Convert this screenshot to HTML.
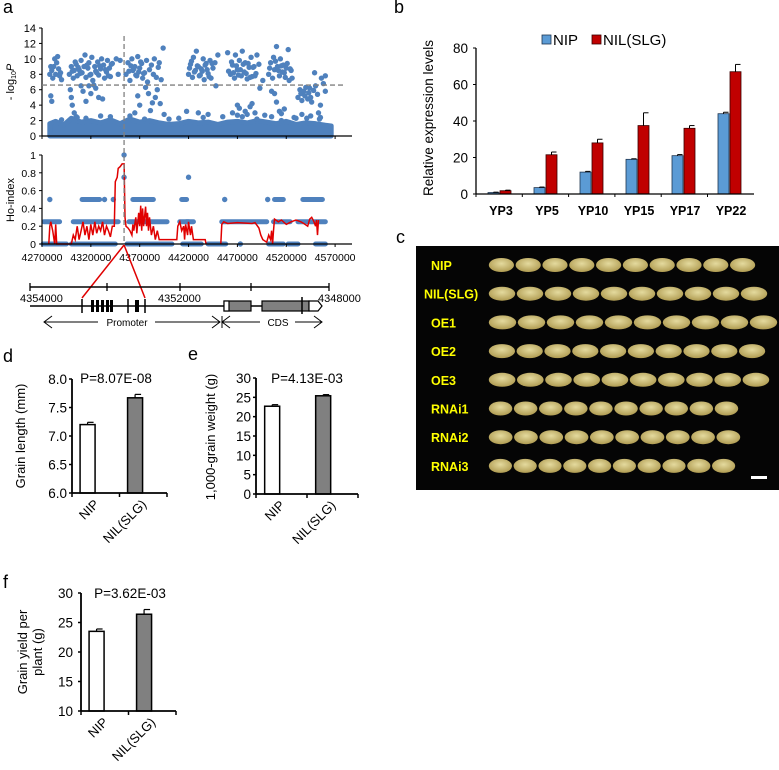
<!DOCTYPE html>
<html><head><meta charset="utf-8">
<style>
html,body{margin:0;padding:0;background:#fff;}
svg{display:block;font-family:"Liberation Sans",Arial,sans-serif;}
</style></head>
<body>
<svg id="fig" width="779" height="770" viewBox="0 0 779 770" xmlns="http://www.w3.org/2000/svg"></svg>
<script>
// ---------- Panel a: GWAS scatter ----------
const snpPos = [8,9,10,11,12,13,14,15,16,17,18,10,9,19,20,
28,30,32,33,35,36,38,40,41,43,44,45,47,48,50,51,52,54,55,57,58,60,61,63,64,66,67,69,70,72,30,31,29,33,35,45,50,55,58,62,40,42,48,53,
76,78,80,
86,88,90,92,93,95,97,98,100,102,103,105,107,108,110,112,114,115,117,119,120,122,124,118,116,113,111,109,100,95,106,121,98,
150,152,154,155,157,158,160,161,163,165,166,168,170,172,173,175,177,148,160,170,178,180,
190,193,195,197,198,200,202,204,205,207,208,210,212,214,215,217,219,220,222,195,200,202,205,208,210,213,215,218,220,223,226,
232,234,236,237,238,240,241,243,244,246,247,249,250,252,253,255,256,235,238,240,243,245,248,
262,264,265,266,268,269,270,272,273,274,275,276,278,279,280,282,283,285,286,284,266,271,288,290,290,
31,34,37,39,46,49,56,59,65,68,71,89,91,94,96,99,101,104,151,153,156,159,162,164,167,169,171,174,191,194,196,199,201,203,206,209,211,213,216,218,233,239,242,245,248,251,254,
36,60,105,125,140,185,228,245,258,275,20,45,70,90,130,165,200,235,260,285];
const snpLogP = [8,9,8.5,7.5,9,10,8,9.5,10.3,8.7,7.8,4.5,5.2,8.2,7.3,
8,9,7.5,8.5,9.3,7.8,8.6,9.8,8.2,9,10.5,7.6,8.8,9.5,8,10.2,7.2,9,8.4,9.6,7.9,8.7,10,9.2,7.5,8.3,9.8,8.8,7.7,9.4,5,4,6,3,2.5,4.5,5.5,6.2,5,4.8,6.5,5.8,6.5,6.6,
10,8,9.8,
8,9.5,7.2,10,8.5,9,7.8,10.3,8.8,9.4,7.5,8.2,9.8,7,8.6,9.2,8,10,7.6,8.9,9.5,7.3,11.4,6,5,4.3,3.3,5.5,4,3,6.3,4.2,5.2,
8,9.3,7.6,10.2,8.5,11,9,7.8,8.7,10,7.3,9.4,8.1,9.8,7.5,8.8,9.5,3.2,3,2.8,6.5,10.5,
10.8,8,9.2,7.5,10.5,8.6,9.8,7.8,11,8.3,9.5,7.4,8.9,10.2,7.7,9,8.1,10.5,9.3,3,4,3.6,2.5,3.2,2.8,3.8,4.2,3,2.2,6.2,7.2,
8,9.5,7.5,10.2,8.6,11.6,9,7.8,10,8.3,9.2,7.6,8.8,11.2,7.2,8.5,7.5,5.8,5.5,4.4,3.2,2,3.5,
5,6,5.5,4.6,5.8,5.2,6.3,4.8,5.6,6.2,5,4.4,5.9,8.2,6.5,5.4,3,4,7.5,2.2,2.8,2.3,6.8,7.8,5.8,
8.4,9.6,8.9,8.1,9.2,7.9,8.2,9.1,8.6,7.8,9.3,8.4,9.1,8.7,7.9,8.3,9.6,8.1,8.8,9.7,8.3,9.1,7.9,8.4,9.2,8.6,7.7,9.4,8.4,9.6,8.2,9.1,7.9,8.6,9.3,8.1,9.4,7.6,8.9,7.8,8.8,9.7,8.5,9.1,8.2,9.4,8.7,
2.4,2.6,2.2,2.8,2.3,2.5,2.7,2.9,2.4,2.6,2.1,2.3,2.5,2.6,2.2,2.4,2.7,2.5,2.3,2.4];
const bandPos = [8,14,22,30,40,50,60,70,80,90,100,110,120,130,140,150,160,170,180,190,200,210,220,230,240,250,260,270,280,290,296];
const bandTop = [1.6,1.9,1.4,2.3,1.8,2.0,1.7,2.1,1.6,2.2,1.8,2.0,1.7,1.5,1.6,1.9,1.7,1.8,1.5,1.8,1.9,1.7,2.0,1.8,1.6,1.9,1.5,1.7,1.6,1.4,1.3];
const yTicksTop = [0,2,4,6,8,10,12,14];
const thresholdLogP = 6.6;
const peakPos = 84;
// Ho-index
const hoLevels = [0,0.25,0.5];
const hoIntervals0 = [[1,25],[30,75],[87,133],[144,163],[170,188],[232,247],[252,262],[280,290]];
const hoIntervals25 = [[2,18],[32,78],[89,128],[141,155],[148,150],[184,230],[237,254],[262,290]];
const hoIntervals50 = [[41,59],[93,114],[143,148],[238,247],[267,287]];
const hoSingleX = [8,64,73,187,231,203,84,84,150];
const hoSingleY = [0.5,0.5,0.5,0.5,0.5,0,1,0.75,0.75];
const redLine = [[7,0],[8,0.2],[9,0.25],[11,0.15],[13,0],[14,0.22],[15,0],[30,0],[32,0.1],[34,0.05],[36,0.2],[38,0.05],[40,0.15],[42,0.25],[44,0.1],[46,0.2],[48,0.05],[50,0.22],[52,0.1],[54,0.25],[56,0.12],[58,0.2],[60,0.15],[62,0.25],[64,0.1],[66,0.2],[68,0.15],[70,0.08],[72,0.2],[74,0.2],[75,0.7],[77,0.75],[78,0.85],[80,0.87],[82,0.9],[84,0.9],[85,0.3],[86,0.2],[88,0.18],[90,0.15],[92,0.1],[93,0.22],[94,0.15],[96,0.3],[97,0.12],[99,0.35],[100,0.2],[101,0.43],[102,0.15],[103,0.4],[104,0.2],[106,0.42],[107,0.2],[108,0.35],[109,0.15],[110,0.3],[112,0.1],[114,0.2],[116,0.05],[118,0.15],[120,0.05],[135,0.05],[138,0.05],[139,0.2],[141,0.25],[143,0.15],[145,0.2],[146,0.05],[147,0.22],[149,0.1],[150,0.25],[152,0.1],[153,0.2],[155,0.05],[167,0.05],[168,0],null,[183,0],[184,0.22],[186,0.25],[190,0.23],[200,0.24],[215,0.23],[218,0.24],[222,0.18],[224,0.1],[226,0.05],[230,0.02],[232,0.1],[234,0.05],[235,0.15],[236,0],[237,0.15],[238,0.28],[242,0.25],[245,0.27],[250,0.22],[255,0.25],[260,0.27],[265,0.25],[268,0.23],[272,0.2],[274,0.28],[276,0.3],[278,0.26],[280,0.2],[281,0.27],[282,0.1],[283,0.27]];
const yTicksHo = [0,0.2,0.4,0.6,0.8,1];
const yTickLabelsHo = ["0","0.2","0.4","0.6","0.8","1"];
const xTickLabelsA = ["4270000","4320000","4370000","4420000","4470000","4520000","4570000"];
// ---------- Panel b ----------
const bCats = ["YP3","YP5","YP10","YP15","YP17","YP22"];
const bNIP = [0.8,3.5,12,19,21,44];
const bNIPerr = [0.2,0.3,0.4,0.3,0.6,0.8];
const bNIL = [1.8,21.5,28,37.5,36,67];
const bNILerr = [0.3,1.5,2,7,1.5,4];
const bTicks = [0,20,40,60,80];
// ---------- Panel d/e/f ----------
const dVals = [7.2,7.67], dErr = [0.04,0.06];
const dTicks = [6.0,6.5,7.0,7.5,8.0];
const eVals = [22.7,25.4], eErr = [0.4,0.3];
const eTicks = [0,5,10,15,20,25,30];
const fVals = [23.5,26.4], fErr = [0.4,0.8];
const fTicks = [10,15,20,25,30];
const groups = ["NIP","NIL(SLG)"];
// ---------- Panel c ----------
const grainLines = ["NIP","NIL(SLG)","OE1","OE2","OE3","RNAi1","RNAi2","RNAi3"];
const grainCounts = [10,10,10,10,10,10,10,10];
const grainLengths = [26.8,28,29,27.8,28.2,25.1,25.3,24.8];

const NS="http://www.w3.org/2000/svg";
const svg=document.getElementById('fig');
function mk(tag,attrs,parent){const e=document.createElementNS(NS,tag);for(const k in attrs)e.setAttribute(k,attrs[k]);(parent||svg).appendChild(e);return e;}
function txt(s,x,y,size,anchor,parent,extra){const t=mk('text',Object.assign({x:x,y:y,'font-size':size,'text-anchor':anchor||'start',fill:'#000'},extra||{}),parent);t.textContent=s;return t;}

// panel letters
[["a",3,13],["b",394,13],["c",396,243],["d",3,362],["e",188,360],["f",3,588]].forEach(p=>{
  const t=txt(p[0],p[1],p[2],18,'start');
  
  
});

// ===== Panel a top =====
const ax=kb=>42+kb*0.977;
const ayTop=v=>136-v*(108/14);
const gA=mk('g',{});


let bd='M'+ax(bandPos[0])+','+ayTop(0);
bandPos.forEach((p,i)=>{bd+=' L'+ax(p)+','+ayTop(bandTop[i]);});
bd+=' L'+ax(bandPos[bandPos.length-1])+','+ayTop(0)+' Z';
const band=mk('path',{d:bd,fill:'#4f81bd',stroke:'#4f81bd','stroke-width':5,'stroke-linejoin':'round'},gA);


snpPos.forEach((p,i)=>{
  const c=mk('circle',{cx:ax(p),cy:ayTop(snpLogP[i]),r:2.7,fill:'#4f81bd'},gA);
  
  
});
mk('line',{x1:42,y1:28,x2:42,y2:136,stroke:'#000','stroke-width':1.2},gA);
mk('line',{x1:42,y1:136,x2:352,y2:136,stroke:'#000','stroke-width':1.2},gA);
yTicksTop.forEach(v=>{
  mk('line',{x1:39,y1:ayTop(v),x2:42,y2:ayTop(v),stroke:'#000'},gA);
  const t=txt(String(v),36,ayTop(v)+4,11,'end',gA);
  
  
});
for(let i=0;i<7;i++){mk('line',{x1:ax(i*50),y1:136,x2:ax(i*50),y2:139,stroke:'#000'},gA);}
const thr=mk('line',{x1:42,y1:ayTop(thresholdLogP),x2:345,y2:ayTop(thresholdLogP),stroke:'#808080','stroke-width':1.3,'stroke-dasharray':'5,3'},gA);


const ylA=txt('',14,82,11,'middle',gA,{transform:'rotate(-90 14 82)'});
ylA.innerHTML='- log<tspan font-size="7" dy="2">10</tspan><tspan dy="-2" font-style="italic">P</tspan>';



// ===== Panel a Ho-index =====
const ayHo=v=>244-v*89;
const gH=mk('g',{});


function rowDots(intervals,level){intervals.forEach(iv=>{const x1=ax(iv[0]),x2=ax(iv[1]);
  const l=mk('line',{x1:x1,y1:ayHo(level),x2:x2,y2:ayHo(level),stroke:'#4f81bd','stroke-width':5,'stroke-linecap':'round'},gH);
  
  });}
rowDots(hoIntervals0,hoLevels[0]);rowDots(hoIntervals25,hoLevels[1]);rowDots(hoIntervals50,hoLevels[2]);
hoSingleX.forEach((p,i)=>{const c=mk('circle',{cx:ax(p),cy:ayHo(hoSingleY[i]),r:2.7,fill:'#4f81bd'},gH);
  
  });
let rd='',start=true;
redLine.forEach(pt=>{if(!pt){start=true;return;}rd+=(start?' M':' L')+ax(pt[0]).toFixed(1)+','+ayHo(pt[1]).toFixed(1);start=false;});
const rl=mk('path',{d:rd,fill:'none',stroke:'#e00000','stroke-width':1.5},gH);


mk('line',{x1:42,y1:155,x2:42,y2:244,stroke:'#000','stroke-width':1.2},gH);
mk('line',{x1:42,y1:244,x2:352,y2:244,stroke:'#000','stroke-width':1.2},gH);
yTicksHo.forEach((v,i)=>{mk('line',{x1:39,y1:ayHo(v),x2:42,y2:ayHo(v),stroke:'#000'},gH);
  const t=txt(yTickLabelsHo[i],36,ayHo(v)+4,10.5,'end',gH);
  
  });
xTickLabelsA.forEach((s,i)=>{mk('line',{x1:ax(i*50),y1:244,x2:ax(i*50),y2:247,stroke:'#000'},gH);
  const t=txt(s,ax(i*50),261,10.5,'middle',gH);
  
  });
const ylH=txt('Ho-index',14,200,11,'middle',gH,{transform:'rotate(-90 14 200)'});


const vd=mk('line',{x1:ax(peakPos),y1:36,x2:ax(peakPos),y2:245,stroke:'#808080','stroke-width':1.3,'stroke-dasharray':'5,3'},svg);



// ===== gene diagram =====
const gG=mk('g',{});


mk('line',{x1:ax(peakPos),y1:245,x2:82,y2:298,stroke:'#e00000','stroke-width':1.5},gG);
mk('line',{x1:ax(peakPos),y1:245,x2:145,y2:298,stroke:'#e00000','stroke-width':1.5},gG);
mk('line',{x1:30,y1:287,x2:329,y2:287,stroke:'#000','stroke-width':1.5},gG);
[30,107,180,251,329].forEach(x=>mk('line',{x1:x,y1:283,x2:x,y2:291,stroke:'#000','stroke-width':1.3},gG));
txt('4354000',20,302,11,'start',gG);txt('4352000',158,302,11,'start',gG);txt('4348000',318,302,11,'start',gG);
mk('line',{x1:30,y1:306,x2:310,y2:306,stroke:'#000','stroke-width':1.5},gG);
[82,128,145].forEach(x=>mk('line',{x1:x,y1:299,x2:x,y2:313,stroke:'#000','stroke-width':1.5},gG));
[[91,3],[96,3],[101,3],[106,3],[110,3],[135,4]].forEach(b=>mk('rect',{x:b[0],y:300,width:b[1],height:12,fill:'#000'},gG));
mk('rect',{x:224,y:301,width:27,height:10,fill:'#808080',stroke:'#000','stroke-width':1.2},gG);
mk('rect',{x:224,y:301,width:5,height:10,fill:'#fff',stroke:'#000','stroke-width':1.2},gG);
mk('rect',{x:262,y:301,width:47,height:10,fill:'#808080',stroke:'#000','stroke-width':1.2},gG);
mk('path',{d:'M309,301 L318,301 L322,306 L318,311 L309,311 Z',fill:'#fff',stroke:'#000','stroke-width':1.2},gG);
mk('line',{x1:302,y1:297,x2:302,y2:314,stroke:'#000','stroke-width':1.5},gG);
mk('line',{x1:44,y1:322,x2:98,y2:322,stroke:'#000'},gG);mk('line',{x1:155,y1:322,x2:220,y2:322,stroke:'#000'},gG);
mk('path',{d:'M52,316 L44,322 L52,328 M212,316 L220,322 L212,328',fill:'none',stroke:'#000'},gG);
txt('Promoter',127,326,10,'middle',gG);
mk('line',{x1:222,y1:322,x2:260,y2:322,stroke:'#000'},gG);mk('line',{x1:295,y1:322,x2:322,y2:322,stroke:'#000'},gG);
mk('path',{d:'M230,316 L222,322 L230,328 M314,316 L322,322 L314,328',fill:'none',stroke:'#000'},gG);
txt('CDS',278,326,10,'middle',gG);
mk('line',{x1:222,y1:316,x2:222,y2:328,stroke:'#000'},gG);

// ===== Panel b =====
const gB=mk('g',{});


const byS=v=>194-v*(146/80);
const bx=i=>488+i*46;
bCats.forEach((c,i)=>{
  const r1=mk('rect',{x:bx(i),y:byS(bNIP[i]),width:11,height:194-byS(bNIP[i]),fill:'#5b9bd5',stroke:'#1f3550','stroke-width':0.8},gB);
  
  
  const r2=mk('rect',{x:bx(i)+12,y:byS(bNIL[i]),width:11,height:194-byS(bNIL[i]),fill:'#c00000',stroke:'#3a0000','stroke-width':0.8},gB);
  
  
  [[bx(i)+5.5,bNIP[i],bNIPerr[i]],[bx(i)+17.5,bNIL[i],bNILerr[i]]].forEach(e=>{
    const y1=byS(e[1]),y2=byS(e[1]+e[2]);
    mk('line',{x1:e[0],y1:y1,x2:e[0],y2:y2,stroke:'#000','stroke-width':1},gB);
    mk('line',{x1:e[0],y1:y2,x2:e[0]+5,y2:y2,stroke:'#000','stroke-width':1},gB);
  });
  const t=txt(c,bx(i)+13,215,12.5,'middle',gB,{'font-weight':'bold'});
  
  
  mk('line',{x1:476+i*46.3,y1:194,x2:476+i*46.3,y2:197,stroke:'#000'},gB);
});
mk('line',{x1:476,y1:48,x2:476,y2:194,stroke:'#000','stroke-width':1.3},gB);
mk('line',{x1:476,y1:194,x2:754,y2:194,stroke:'#000','stroke-width':1.3},gB);
bTicks.forEach(v=>{mk('line',{x1:473,y1:byS(v),x2:476,y2:byS(v),stroke:'#000'},gB);
  const t=txt(String(v),468,byS(v)+5,13.5,'end',gB);
  
  });
const ylB=txt('Relative expression levels',433,118,13.5,'middle',gB,{transform:'rotate(-90 433 118)'});


const lg=mk('g',{},gB);


mk('rect',{x:542,y:35,width:9,height:9,fill:'#5b9bd5',stroke:'#1f3550','stroke-width':0.8},lg);
txt('NIP',553,45,15,'start',lg);
mk('rect',{x:592,y:35,width:9,height:9,fill:'#c00000',stroke:'#3a0000','stroke-width':0.8},lg);
txt('NIL(SLG)',603,45,15,'start',lg);

// ===== Panel c =====
const gC=mk('g',{});


mk('rect',{x:416,y:246,width:363,height:244,fill:'#050505'},gC);
const defs=mk('defs',{});
const lgd=mk('radialGradient',{id:'grain',cx:'50%',cy:'40%',r:'60%'},defs);
mk('stop',{offset:'0%','stop-color':'#e4da9e'},lgd);mk('stop',{offset:'100%','stop-color':'#b09c52'},lgd);
grainLines.forEach((name,r)=>{
  const cy=265+r*28.7;
  const t=txt(name,name==='NIL(SLG)'?424:431,cy+5,12.5,'start',gC,{fill:'#ffff00','font-weight':'bold'});
  
  
  for(let k=0;k<grainCounts[r];k++){
    const w=grainLengths[r];
    const e=mk('ellipse',{cx:488+w*k+w/2,cy:cy,rx:w/2-0.8,ry:7,fill:'url(#grain)'},gC);
    
    
  }
});
const sb=mk('rect',{x:751,y:476,width:16,height:3,fill:'#fff'},gC);



// ===== small bar charts =====
function small(name,x0,x1,yTop,yBot,ticks,vals,errs,pText,pX,pY,yLabel,labX,labY,tickFmt,tickLabX){
  const g=mk('g',{});
  
  
  const lo=ticks[0],hi=ticks[ticks.length-1];
  const ys=v=>yBot-(v-lo)/(hi-lo)*(yBot-yTop);
  const w=(x1-x0)/2;
  vals.forEach((v,i)=>{
    const bxl=x0+w*i+w*0.17;
    const r=mk('rect',{x:bxl,y:ys(v),width:15,height:yBot-ys(v),fill:i?'#808080':'#fff',stroke:'#000','stroke-width':1.5},g);
    
    
    const cx=bxl+7.5,ye=ys(v+errs[i]);
    mk('line',{x1:cx,y1:ys(v),x2:cx,y2:ye,stroke:'#000','stroke-width':1.2},g);
    mk('line',{x1:cx,y1:ye,x2:cx+6,y2:ye,stroke:'#000','stroke-width':1.2},g);
    const lx=x0+w*i+w*0.5+4,ly=yBot+12;
    const t=txt(groups[i],lx,ly,13,'end',g,{transform:'rotate(-45 '+lx+' '+ly+')'});
    
    
  });
  mk('line',{x1:x0,y1:yTop,x2:x0,y2:yBot,stroke:'#000','stroke-width':1.8},g);
  mk('line',{x1:x0,y1:yBot,x2:x1,y2:yBot,stroke:'#000','stroke-width':1.8},g);
  [x0,(x0+x1)/2,x1].forEach(x=>mk('line',{x1:x,y1:yBot,x2:x,y2:yBot+4,stroke:'#000','stroke-width':1.5},g));
  ticks.forEach(v=>{mk('line',{x1:x0-3,y1:ys(v),x2:x0,y2:ys(v),stroke:'#000','stroke-width':1.5},g);
    const t=txt(tickFmt(v),tickLabX,ys(v)+5,13.5,'end',g);
    
    });
  const p=txt(pText,pX,pY,13.5,'middle',g);
  
  
  const yl=txt('',labX,labY,13,'middle',g,{transform:'rotate(-90 '+labX+' '+labY+')'});
  yLabel.forEach((s,i)=>{const ts=mk('tspan',{x:labX,dy:i?15:(yLabel.length>1?-7:0)},yl);ts.textContent=s;});
  
  
}
small('grain-length-chart',72,167,379,493,dTicks,dVals,dErr,'P=8.07E-08',116,383,['Grain length (mm)'],25,436,v=>v.toFixed(1),67);
small('grain-weight-chart',256,358,378,494,eTicks,eVals,eErr,'P=4.13E-03',307,383,['1,000-grain weight (g)'],215,437,v=>String(v),251);
small('grain-yield-chart',81,176,593,711,fTicks,fVals,fErr,'P=3.62E-03',130,598,['Grain yield per','plant (g)'],34,652,v=>String(v),73);
</script>
</body></html>
